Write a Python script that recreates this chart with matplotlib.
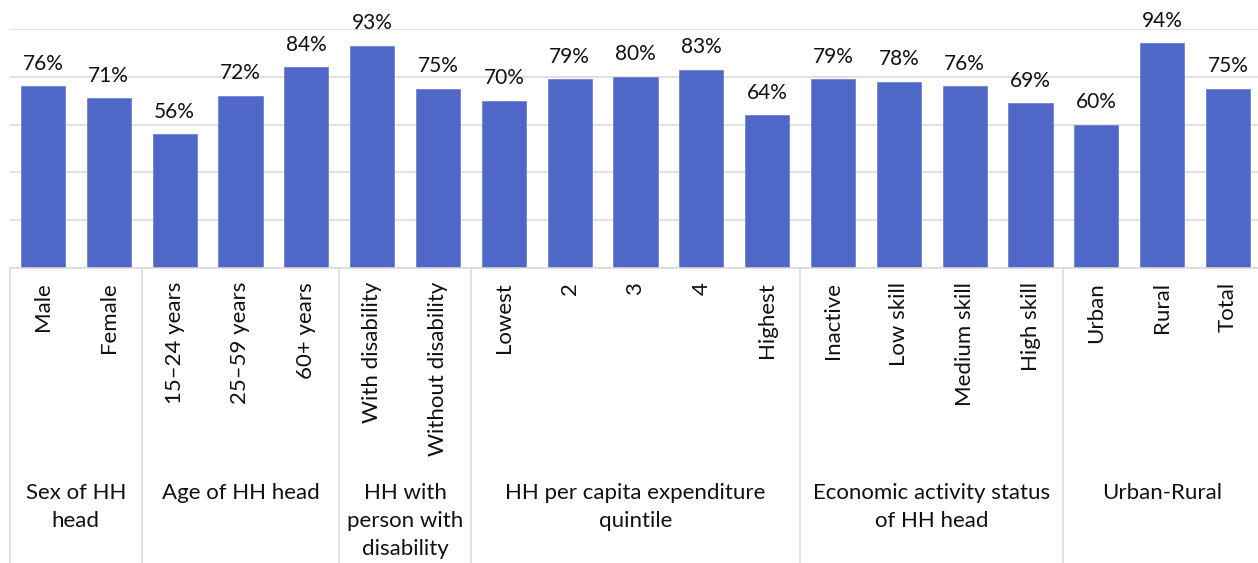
import matplotlib
matplotlib.use("Agg")
import matplotlib.pyplot as plt
import matplotlib.transforms as mtransforms
from matplotlib.ticker import MultipleLocator

plt.rcParams['font.family'] = ['Lato', 'DejaVu Sans']

# Share of households, by household characteristic
categories = ["Male", "Female",
              "15\u201324 years", "25\u201359 years", "60+ years",
              "With disability", "Without disability",
              "Lowest", "2", "3", "4", "Highest",
              "Inactive", "Low skill", "Medium skill", "High skill",
              "Urban", "Rural", "Total"]
values = [76, 71,
          56, 72, 84,
          93, 75,
          70, 79, 80, 83, 64,
          79, 78, 76, 69,
          60, 94, 75]
groups = ["Sex of HH\nhead", "Age of HH head",
          "HH with\nperson with\ndisability",
          "HH per capita expenditure\nquintile",
          "Economic activity status\nof HH head", "Urban-Rural"]
group_sizes = [2, 3, 2, 5, 4, 3]

W, H = 1258, 563
fig = plt.figure(figsize=(W / 100, H / 100), dpi=100)
ax = fig.add_axes([10 / W, 1 - 268 / H, 1251 / W, 239 / H])

bar_color = "#4F67C7"
text_color = "#111111"
x = list(range(len(categories)))
bars = ax.bar(x, values, width=0.67, color=bar_color,
              edgecolor="#6f84d6", linewidth=0.6, zorder=2)

for xi, v in zip(x, values):
    ax.annotate(f"{v}%", (xi, v), xytext=(0, 9), textcoords="offset points",
                ha="center", va="bottom", fontsize=15, color=text_color,
                annotation_clip=False, zorder=3)

ax.set_ylim(0, 100)
ax.set_xlim(-0.5, len(categories) - 0.5)
ax.yaxis.set_major_locator(MultipleLocator(20))
ax.grid(axis="y", color="#d9d9d9", linewidth=1.1, zorder=0)
ax.set_axisbelow(True)
ax.tick_params(axis="y", left=False, labelleft=False)
for side in ("top", "right", "left"):
    ax.spines[side].set_visible(False)
ax.spines["bottom"].set_color("#d9d9d9")
ax.spines["bottom"].set_linewidth(1.1)

ax.set_xticks(x)
ax.set_xticklabels(categories, rotation=90, fontsize=16, color=text_color,
                   va="top", ha="center")
ax.tick_params(axis="x", length=0, pad=10)

# Group separators and group labels below the axis
trans = mtransforms.blended_transform_factory(ax.transData, ax.transAxes)
label_y = (483 - 268) / -239.0
start = 0
bounds = [-0.5]
for name, n in zip(groups, group_sizes):
    end = start + n
    bounds.append(end - 0.5)
    ax.text((start + end - 1) / 2, label_y, name, transform=trans,
            ha="center", va="top", fontsize=16, color=text_color,
            linespacing=1.5, multialignment="center")
    start = end
for b in bounds[:-1]:
    ax.plot([b, b], [0, -1.3], transform=trans, color="#d9d9d9",
            linewidth=1.1, clip_on=False, zorder=1)

fig.savefig("out.png", dpi=100, facecolor="white")
